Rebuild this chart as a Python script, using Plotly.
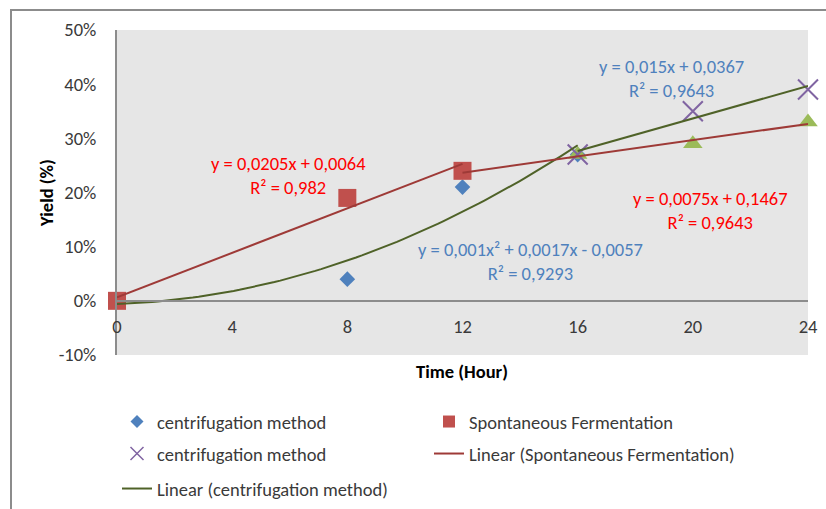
import numpy as np
import plotly.graph_objects as go

# ---- data -------------------------------------------------------------
hour_ticks = [0, 4, 8, 12, 16, 20, 24]
yield_ticks = [-0.1, 0.0, 0.1, 0.2, 0.3, 0.4, 0.5]
yield_tick_labels = ["-10%", "0%", "10%", "20%", "30%", "40%", "50%"]

# centrifugation method, first stage (diamonds)
centrif_early_hours = [0, 8, 12, 16]
centrif_early_yield = [0.00, 0.04, 0.21, 0.27]

# spontaneous fermentation, first stage (squares)
spont_early_hours = [0, 8, 12]
spont_early_yield = [0.00, 0.19, 0.24]

# centrifugation method, second stage (crosses)
centrif_late_hours = [16, 20, 24]
centrif_late_yield = [0.27, 0.35, 0.39]

# spontaneous fermentation, second stage (triangles)
spont_late_hours = [16, 20, 24]
spont_late_yield = [0.27, 0.29, 0.33]

# trendline equations as printed on the chart
eq_spont_early = "y = 0,0205x + 0,0064<br>R² = 0,982"
eq_centrif_late = "y = 0,015x + 0,0367<br>R² = 0,9643"
eq_spont_late = "y = 0,0075x + 0,1467<br>R² = 0,9643"
eq_centrif_early = "y = 0,001x² + 0,0017x - 0,0057<br>R² = 0,9293"

# ---- styling ------------------------------------------------------------
FONT = "Calibri, Carlito, Lato, sans-serif"
FS = 18.5
TEXT_COLOR = "#3A3A3A"
AXIS_COLOR = "#8C8C8C"
BLUE, RED, PURPLE, GREEN = "#4F81BD", "#C0504D", "#8064A2", "#9BBB59"
RED_TREND, GREEN_TREND = "#9E3A37", "#4F6228"

W, H = 826, 509
M_L, M_R, M_T, M_B = 117, 18, 30, 154
PW, PH = W - M_L - M_R, H - M_T - M_B
Y_MIN, Y_MAX = -0.1, 0.5
X_MIN, X_MAX = 0, 24


def trend(xs, ys, degree, x_from, x_to, n=80):
    coef = np.polyfit(xs, ys, degree)
    xx = np.linspace(x_from, x_to, n)
    return xx, np.polyval(coef, xx)


def px_to_paper(px, py):
    return (px - M_L) / PW, (H - M_B - py) / PH


def px_to_data(px, py):
    return (X_MIN + (px - M_L) / PW * (X_MAX - X_MIN),
            Y_MAX - (py - M_T) / PH * (Y_MAX - Y_MIN))


fig = go.Figure()

# markers
fig.add_trace(go.Scatter(x=centrif_early_hours, y=centrif_early_yield, mode="markers",
                         name="centrifugation method", showlegend=False, cliponaxis=False,
                         marker=dict(symbol="diamond", size=12, color=BLUE)))
fig.add_trace(go.Scatter(x=spont_early_hours, y=spont_early_yield, mode="markers",
                         name="Spontaneous Fermentation", showlegend=False, cliponaxis=False,
                         marker=dict(symbol="square", size=18, color=RED)))
fig.add_trace(go.Scatter(x=spont_late_hours, y=spont_late_yield, mode="markers",
                         name="Spontaneous Fermentation", showlegend=False, cliponaxis=False,
                         marker=dict(symbol="triangle-up", size=17, color=GREEN)))
fig.add_trace(go.Scatter(x=centrif_late_hours, y=centrif_late_yield, mode="markers",
                         name="centrifugation method", showlegend=False, cliponaxis=False,
                         marker=dict(symbol="x-thin", size=20,
                                     line=dict(color=PURPLE, width=2))))

# trendlines
tx, ty = trend(centrif_early_hours, centrif_early_yield, 2, 0, 16)
fig.add_trace(go.Scatter(x=tx, y=ty, mode="lines", showlegend=False,
                         line=dict(color=GREEN_TREND, width=2)))
tx, ty = trend(centrif_late_hours, centrif_late_yield, 1, 16, 24)
fig.add_trace(go.Scatter(x=tx, y=ty, mode="lines", showlegend=False,
                         line=dict(color=GREEN_TREND, width=2)))
tx, ty = trend(spont_early_hours, spont_early_yield, 1, 0, 12)
fig.add_trace(go.Scatter(x=tx, y=ty, mode="lines", showlegend=False,
                         line=dict(color=RED_TREND, width=2)))
tx, ty = trend(spont_late_hours, spont_late_yield, 1, 12, 24)
fig.add_trace(go.Scatter(x=tx, y=ty, mode="lines", showlegend=False,
                         line=dict(color=RED_TREND, width=2)))

# legend entries (one legend box per entry, laid out in two columns)
legend_entries = [
    ("centrifugation method", "markers", dict(symbol="diamond", size=10, color=BLUE), None, 157, 422),
    ("Spontaneous Fermentation", "markers", dict(symbol="square", size=12, color=RED), None, 469, 422),
    ("centrifugation method", "markers", dict(symbol="x-thin", size=13, line=dict(color=PURPLE, width=1.5)), None, 157, 454),
    ("Linear (Spontaneous Fermentation)", "lines", None, dict(color=RED_TREND, width=2), 469, 454),
    ("Linear (centrifugation method)", "lines", None, dict(color=GREEN_TREND, width=2), 157, 489),
]
legend_layouts = {}
for i, (label, mode, mk, ln, tx_px, ty_px) in enumerate(legend_entries):
    key = "legend" if i == 0 else f"legend{i + 1}"
    kw = dict(x=[None], y=[None], mode=mode, name=label, legend=key, showlegend=True)
    if mk is not None:
        kw["marker"] = mk
    if ln is not None:
        kw["line"] = ln
    fig.add_trace(go.Scatter(**kw))
    lx, ly = px_to_paper(tx_px - 40, ty_px)
    legend_layouts[key] = dict(
        xref="paper", yref="paper", x=lx, y=ly,
        xanchor="left", yanchor="middle",
        bgcolor="rgba(0,0,0,0)", borderwidth=0,
        font=dict(family=FONT, size=FS, color=TEXT_COLOR),
    )

# equation labels
annotations = []
for text, color, px, py in [
    (eq_spont_early, "#FF0000", 288, 175),
    (eq_centrif_late, BLUE, 671, 78),
    (eq_spont_late, "#FF0000", 710, 210),
    (eq_centrif_early, BLUE, 530, 261),
]:
    ax_, ay_ = px_to_data(px, py)
    annotations.append(dict(x=ax_, y=ay_, xref="x", yref="y", text=text, showarrow=False,
                            xanchor="center", yanchor="middle", align="center",
                            font=dict(family=FONT, size=FS, color=color)))

# axis titles
tx_, ty_ = px_to_paper(462, 371)
annotations.append(dict(text="<b>Time (Hour)</b>", x=tx_, y=ty_, xref="paper", yref="paper",
                        xanchor="center", yanchor="middle", showarrow=False,
                        font=dict(family=FONT, size=FS, color="#000000")))
tx_, ty_ = px_to_paper(47, 193)
annotations.append(dict(text="<b>Yield (%)</b>", x=tx_, y=ty_, xref="paper", yref="paper",
                        xanchor="center", yanchor="middle", showarrow=False, textangle=-90,
                        font=dict(family=FONT, size=FS, color="#000000")))

# chart frame (its top and left edges fall inside the page)
fx0, fy1 = px_to_paper(11, 10)
fx1, fy0 = px_to_paper(W + 20, H + 20)
frame = dict(type="rect", xref="paper", yref="paper", x0=fx0, x1=fx1, y0=fy0, y1=fy1,
             line=dict(color=AXIS_COLOR, width=2), fillcolor="rgba(0,0,0,0)", layer="below")

fig.update_layout(
    width=W, height=H,
    margin=dict(l=M_L, r=M_R, t=M_T, b=M_B, autoexpand=False),
    paper_bgcolor="white", plot_bgcolor="#E6E6E6",
    font=dict(family=FONT, size=FS, color=TEXT_COLOR),
    annotations=annotations,
    shapes=[frame],
    xaxis=dict(range=[X_MIN, X_MAX], tickvals=hour_ticks, showgrid=False, zeroline=False,
               showline=True, linecolor=AXIS_COLOR, linewidth=2, ticks="",
               anchor="free", position=(0 - Y_MIN) / (Y_MAX - Y_MIN),
               ticklabelstandoff=9, automargin=False,
               tickfont=dict(family=FONT, size=FS, color=TEXT_COLOR)),
    yaxis=dict(range=[Y_MIN, Y_MAX], tickvals=yield_ticks, ticktext=yield_tick_labels,
               showgrid=False, zeroline=False, showline=True, linecolor=AXIS_COLOR,
               linewidth=2, ticks="", ticklabelstandoff=15, automargin=False,
               tickfont=dict(family=FONT, size=FS, color=TEXT_COLOR)),
    **legend_layouts,
)

fig.write_html("out.html")
